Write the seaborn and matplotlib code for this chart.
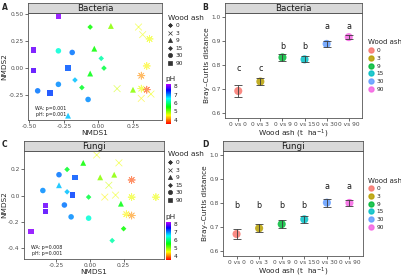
import numpy as np
import pandas as pd
import matplotlib
matplotlib.use("Agg")
import matplotlib.pyplot as plt
import seaborn as sns
from matplotlib.colors import LinearSegmentedColormap, Normalize
from matplotlib.cm import ScalarMappable
from matplotlib.lines import Line2D

# ---- data ----
ash_levels = ["0", "3", "9", "15", "30", "90"]

# NMDS scores, bacteria (5 plots per wood ash level, same order as ash_levels)
bac_x = [0.37, 0.35, 0.31, 0.31, 0.35,
         0.29, 0.32, 0.135, 0.31, 0.38,
         -0.22, -0.03, -0.06, 0.09, 0.25,
         -0.17, -0.12, -0.06, 0.02, 0.04,
         -0.44, -0.29, -0.19, -0.29, -0.075,
         -0.29, -0.47, -0.47, -0.22, -0.35]
bac_y = [0.27, 0.02, -0.07, -0.19, -0.20,
         0.38, 0.31, -0.19, -0.28, -0.24,
         -0.44, 0.18, -0.05, 0.39, -0.20,
         -0.11, -0.18, 0.38, 0.09, 0.00,
         -0.21, -0.15, 0.145, 0.16, -0.29,
         0.48, 0.17, -0.02, 0.00, -0.23]
bac_ph = [4.6, 4.5, 4.1, 4.6, 3.8,
          4.6, 4.6, 4.7, 4.5, 4.6,
          6.8, 5.5, 5.6, 5.0, 5.0,
          6.8, 5.7, 5.5, 6.2, 5.8,
          7.1, 7.0, 7.1, 6.4, 7.0,
          8.1, 8.0, 7.9, 7.2, 7.3]

# NMDS scores, fungi
fun_x = [0.31, 0.31, 0.27, 0.31, 0.49,
         0.05, 0.215, 0.14, 0.11, 0.19,
         -0.23, -0.05, 0.076, 0.18, 0.23,
         -0.17, -0.17, -0.01, 0.25, 0.165,
         -0.35, -0.23, -0.19, -0.14, -0.01,
         -0.44, -0.33, -0.33, -0.11, -0.13]
fun_y = [0.12, -0.01, -0.14, -0.15, -0.01,
         0.31, 0.25, 0.08, -0.01, 0.005,
         0.08, 0.25, 0.14, 0.16, -0.06,
         0.03, 0.20, -0.01, -0.25, -0.34,
         0.04, 0.16, -0.07, -0.16, -0.17,
         -0.27, -0.075, -0.12, 0.14, 0.005]
fun_ph = [3.8, 4.6, 4.5, 4.1, 4.6,
          4.6, 4.6, 4.7, 4.5, 4.6,
          6.8, 5.5, 5.0, 5.0, 5.6,
          6.8, 5.7, 5.8, 5.5, 6.2,
          7.0, 7.1, 7.1, 7.0, 6.4,
          8.1, 8.0, 7.9, 7.2, 7.3]

bac_stats = "WA: p=0.001\npH: p=0.001"
fun_stats = "WA: p=0.008\npH: p=0.001"

# axis ticks of the NMDS panels
bac_xticks = [-0.5, -0.25, 0.0, 0.25]
bac_xlabels = ["-0.50", "-0.25", "0.00", "0.25"]
bac_yticks = [-0.25, 0.0, 0.25, 0.5]
bac_ylabels = ["-0.25", "0.00", "0.25", "0.50"]
fun_xticks = [-0.25, 0.0, 0.25]
fun_xlabels = ["-0.25", "0.00", "0.25"]
fun_yticks = [-0.4, -0.2, 0.0, 0.2]
fun_ylabels = ["-0.4", "-0.2", "0.0", "0.2"]

# Bray-Curtis distance to control (mean, se)
dist_labels = ["0 vs 0", "0 vs 3", "0 vs 9", "0 vs 15", "0 vs 30", "0 vs 90"]
bac_mean = [0.692, 0.731, 0.831, 0.823, 0.887, 0.915]
bac_se = [0.025, 0.016, 0.016, 0.013, 0.012, 0.007]
bac_letters = ["c", "c", "b", "b", "a", "a"]
bac_letter_y = [0.787, 0.787, 0.877, 0.877, 0.960, 0.960]
fun_mean = [0.671, 0.695, 0.712, 0.732, 0.801, 0.800]
fun_se = [0.020, 0.016, 0.018, 0.015, 0.017, 0.014]
fun_letters = ["b", "b", "b", "b", "a", "a"]
fun_letter_y = [0.789, 0.789, 0.789, 0.789, 0.868, 0.868]

# ---- style ----
sns.set_theme(style="white")
plt.rcParams["font.family"] = ["DejaVu Sans"]

W, H = 401, 277
fig = plt.figure(figsize=(W / 100, H / 100), dpi=100)

def box(x0, y0, x1, y1):
    # pixel box (top-left origin) -> figure fraction rect
    return [x0 / W, 1 - y1 / H, (x1 - x0) / W, (y1 - y0) / H]

ph_cmap = LinearSegmentedColormap.from_list("ph", plt.cm.hsv(np.linspace(0, 0.8, 256)))
ph_norm = Normalize(3.5, 8.3)
ash_markers = {"0": (8, 2, 0), "3": "x", "9": "^", "15": "D", "30": "o", "90": "s"}
ash_sizes = {"0": 26, "3": 24, "9": 18, "15": 8, "30": 16, "90": 16}
hue_cols = ["#F8766D", "#B79F00", "#00BA38", "#00BFC4", "#619CFF", "#F564E3"]
edge = "#333333"
tick_fs = 4.2
lab_fs = 5.3


def style_axes(ax):
    for sp in ax.spines.values():
        sp.set_color("#555555")
        sp.set_linewidth(0.6)
    ax.tick_params(axis="both", length=2, width=0.5, color=edge,
                   labelsize=tick_fs, labelcolor="#4D4D4D", pad=1.2, bottom=True, left=True)


def strip(ax, title):
    p = ax.get_position()
    s = fig.add_axes([p.x0, p.y1, p.width, 10 / H])
    s.set_facecolor("#D9D9D9")
    s.set_xticks([])
    s.set_yticks([])
    for sp in s.spines.values():
        sp.set_color("#555555")
        sp.set_linewidth(0.6)
    s.text(0.5, 0.45, title, ha="center", va="center", fontsize=6.3, color="#1A1A1A")


def nmds_panel(rect, x, y, ph, title, stats, xlim, ylim, xt, xl, yt, yl, leg_top, cb_box):
    ax = fig.add_axes(rect)
    df = pd.DataFrame({"NMDS1": x, "NMDS2": y, "pH": ph,
                       "ash": np.repeat(ash_levels, 5)})
    for lvl in ash_levels:
        sub = df[df["ash"] == lvl]
        if lvl in ("0", "3"):
            kw = dict(linewidth=0.55, alpha=0.6)
        else:
            kw = dict(edgecolor="none", alpha=0.85)
        sns.scatterplot(data=sub, x="NMDS1", y="NMDS2", hue="pH", palette=ph_cmap,
                        hue_norm=ph_norm, marker=ash_markers[lvl], s=ash_sizes[lvl],
                        legend=False, ax=ax, **kw)
    ax.set_xlim(*xlim)
    ax.set_ylim(*ylim)
    ax.set_xticks(xt)
    ax.set_xticklabels(xl)
    ax.set_yticks(yt)
    ax.set_yticklabels(yl)
    ax.set_xlabel("NMDS1", fontsize=lab_fs, labelpad=0.5)
    ax.set_ylabel("NMDS2", fontsize=lab_fs, labelpad=0.5)
    ax.text(0.05, 0.025, stats, transform=ax.transAxes, fontsize=3.4, ha="left",
            va="bottom", multialignment="right", color="#1A1A1A", linespacing=1.3)
    style_axes(ax)
    strip(ax, title)

    handles = [Line2D([], [], linestyle="none", marker=ash_markers[l], color=edge,
                      markersize=3.0 if l != "15" else 2.0, markeredgewidth=0.5)
               for l in ash_levels]
    leg = fig.legend(handles, ash_levels, title="Wood ash", loc="upper left",
                     bbox_to_anchor=(164 / W, 1 - leg_top / H), frameon=False,
                     fontsize=4.2, title_fontsize=5.3, handlelength=1.0, handletextpad=0.4,
                     labelspacing=0.42, borderpad=0.1)
    leg._legend_box.align = "left"

    cax = fig.add_axes(box(*cb_box))
    cb = fig.colorbar(ScalarMappable(norm=ph_norm, cmap=ph_cmap), cax=cax, ticks=[4, 5, 6, 7, 8])
    cb.outline.set_visible(False)
    cax.tick_params(length=0, labelsize=tick_fs, pad=2, labelcolor="#1A1A1A")
    fig.text((cb_box[0] - 1) / W, 1 - (cb_box[1] - 2) / H, "pH", fontsize=lab_fs,
             ha="left", va="bottom")
    return ax


def dist_panel(rect, mean, se, letters, letter_y, title, leg_top):
    ax = fig.add_axes(rect)
    pos = np.arange(len(dist_labels))
    sns.scatterplot(x=dist_labels, y=mean, hue=ash_levels, palette=hue_cols, s=34,
                    alpha=0.85, edgecolor="none", legend=False, ax=ax, zorder=3)
    ax.errorbar(pos, mean, yerr=se, fmt="none", ecolor="#3A3A3A", elinewidth=0.6,
                capsize=2.6, capthick=0.6, zorder=4)
    for p, t, ly in zip(pos, letters, letter_y):
        ax.text(p, ly, t, ha="center", va="center", fontsize=5.8, color="#1A1A1A")
    ax.set_xlim(-0.6, 5.6)
    ax.set_ylim(0.58, 1.015)
    ax.set_xticks(pos)
    ax.set_xticklabels(dist_labels)
    ax.set_yticks([0.6, 0.7, 0.8, 0.9, 1.0])
    ax.set_yticklabels(["0.6", "0.7", "0.8", "0.9", "1.0"])
    ax.set_xlabel("Wood ash (t  ha$^{-1}$)", fontsize=lab_fs, labelpad=0.3)
    ax.set_ylabel("Bray\u2013Curtis distance", fontsize=lab_fs, labelpad=0.5)
    style_axes(ax)
    strip(ax, title)
    handles = [Line2D([], [], linestyle="none", marker="o", color=c, markersize=3.6, alpha=0.85)
               for c in hue_cols]
    leg = fig.legend(handles, ash_levels, title="Wood ash", loc="upper left",
                     bbox_to_anchor=(365 / W, 1 - leg_top / H), frameon=False,
                     fontsize=4.2, title_fontsize=5.0, handlelength=1.0, handletextpad=0.4,
                     labelspacing=0.45, borderpad=0.1)
    leg._legend_box.align = "left"
    return ax


nmds_panel(box(28, 13, 162, 120), bac_x, bac_y, bac_ph, "Bacteria", bac_stats,
           (-0.51, 0.46), (-0.48, 0.51), bac_xticks, bac_xlabels, bac_yticks, bac_ylabels,
           11, (166, 84, 171, 124))
dist_panel(box(225, 13, 362, 118), bac_mean, bac_se, bac_letters, bac_letter_y,
           "Bacteria", 36)
nmds_panel(box(24, 151, 164, 259), fun_x, fun_y, fun_ph, "Fungi", fun_stats,
           (-0.49, 0.55), (-0.48, 0.34), fun_xticks, fun_xlabels, fun_yticks, fun_ylabels,
           148, (166, 222, 171, 260))
dist_panel(box(223, 151, 363, 256), fun_mean, fun_se, fun_letters, fun_letter_y,
           "Fungi", 174)

for lab, (px, py) in zip("ABCD", [(2, 3), (202, 3), (2, 140), (202, 140)]):
    fig.text(px / W, 1 - py / H, lab, fontsize=5.5, fontweight="bold", ha="left", va="top")

fig.savefig("out.png", dpi=100)
